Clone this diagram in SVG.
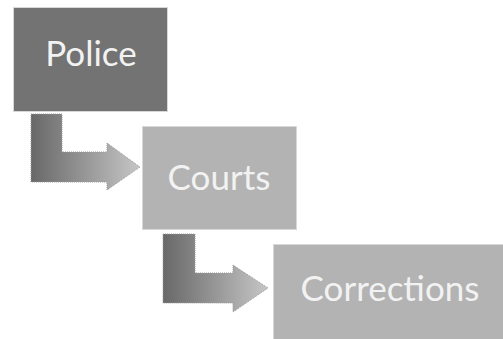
<svg xmlns="http://www.w3.org/2000/svg" width="503" height="339" viewBox="0 0 503 339">
  <style>
    .box { stroke: #d8d8d8; stroke-width: 1; }
    .dark { fill: #737373; }
    .light { fill: #b3b3b3; }
    .label { font-family: Lato, "Open Sans", "Liberation Sans", sans-serif; font-size: 35px; fill: #f2f2f2; text-anchor: middle; }
    .bend { stroke: #9a9a9a; stroke-width: 1; stroke-dasharray: 1 1; }
  </style>
  <defs>
    <linearGradient id="bendFill1" gradientUnits="userSpaceOnUse" x1="31" y1="0" x2="140" y2="0">
      <stop offset="0" stop-color="#686868"/>
      <stop offset="1" stop-color="#c6c6c6"/>
    </linearGradient>
    <linearGradient id="bendFill2" gradientUnits="userSpaceOnUse" x1="163" y1="0" x2="268" y2="0">
      <stop offset="0" stop-color="#686868"/>
      <stop offset="1" stop-color="#c6c6c6"/>
    </linearGradient>
  </defs>

  <rect width="503" height="339" fill="#ffffff"/>

  <!-- bent-up arrows between stages -->
  <g id="connectors">
    <path class="bend" fill="url(#bendFill1)" d="M31,114 H62 V152 H107 V143 L140,167 L107,190 V182 H31 Z"/>
    <path class="bend" fill="url(#bendFill2)" d="M163,234 H195 V273 H233 V265 L268,288 L233,312 V303 H163 Z"/>
  </g>

  <g id="police">
    <rect class="box dark" x="13.5" y="7.5" width="154" height="104"/>
    <text class="label" x="91" y="66">Police</text>
  </g>

  <g id="courts">
    <rect class="box light" x="142.5" y="126.5" width="154" height="103"/>
    <text class="label" x="219" y="190">Courts</text>
  </g>

  <g id="corrections">
    <rect class="box light" x="273.5" y="244.5" width="234" height="98"/>
    <text class="label" x="390" y="301">Corrections</text>
  </g>
</svg>
